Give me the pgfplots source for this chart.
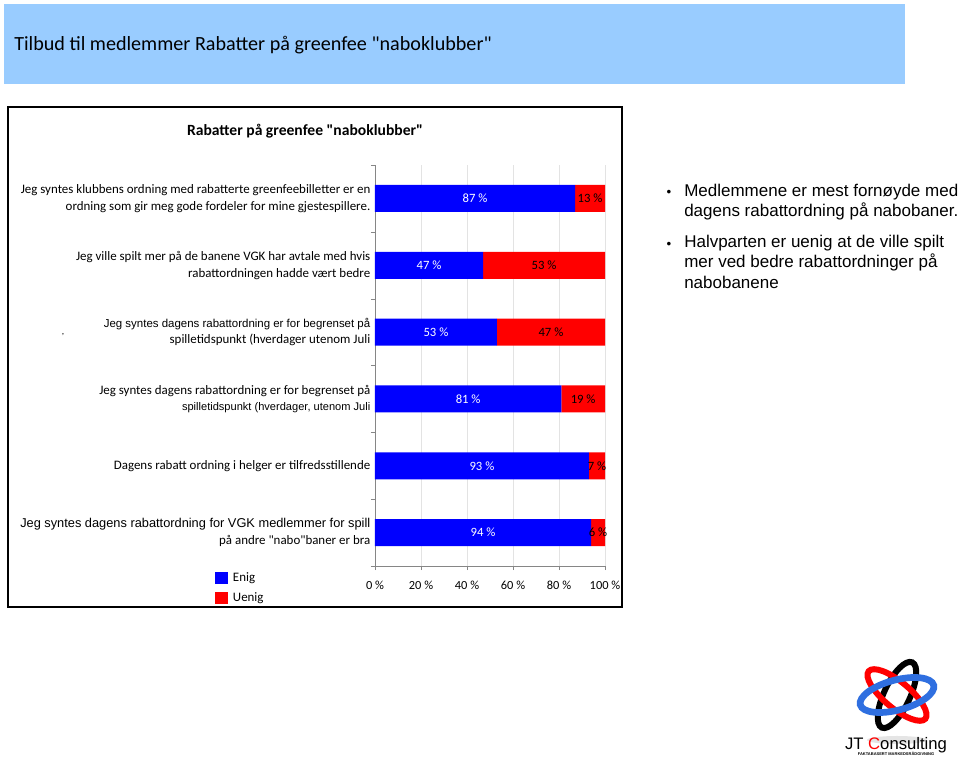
\documentclass[border=0pt]{standalone}
\usepackage{fontspec}
\setmainfont{Carlito}
\newfontfamily\arial{Liberation Sans}
\usepackage{pgfplots}
\pgfplotsset{compat=1.18}
\definecolor{hdr}{HTML}{99CCFF}
\definecolor{eblue}{HTML}{0000FF}
\definecolor{ured}{HTML}{FF0000}
\definecolor{axgray}{HTML}{868686}
\definecolor{gridgray}{HTML}{E3E3E3}
\definecolor{logoblue}{HTML}{2F6FE0}
\newcommand{\q}{\textquotedbl}
\begin{document}
\begin{tikzpicture}[x=0.75pt,y=0.75pt]
\path[use as bounding box] (0,0) rectangle (960,759);
\fill[white] (0,0) rectangle (960,759);
% header band
\fill[hdr] (4,675) rectangle (905,755);
\node[anchor=west,inner sep=0pt,font=\fontsize{15.1}{17}\selectfont] at (14,714) {Tilbud til medlemmer Rabatter på greenfee \q naboklubber\q};
% chart box
\draw[line width=1.4pt] (8,152) rectangle (622,652);
\node[font=\bfseries\fontsize{11.7}{13}\selectfont,inner sep=0pt] at (305,628) {Rabatter på greenfee \q naboklubber\q};
\node[font=\fontsize{7}{7}\selectfont,inner sep=0pt] at (63,424) {,};
\begin{axis}[
  at={(281.25pt,144.75pt)}, anchor=south west,
  scale only axis, width=172.5pt, height=300.75pt,
  xbar stacked, bar width=20.25pt,
  xmin=0, xmax=100, ymin=-0.5, ymax=5.5, y dir=reverse,
  axis x line*=bottom, axis y line*=left,
  axis line style={draw=axgray,-},
  tick style={draw=axgray},
  tick align=outside, major tick length=3pt,
  xtick={0,20,...,100},
  xticklabel={\pgfmathprintnumber{\tick} \%},
  /pgf/number format/assume math mode=true,
  xticklabel style={font=\fontsize{9.3}{10}\selectfont, yshift=-5pt},
  xmajorgrids, major grid style={draw=gridgray},
  ytick={-0.5,0.5,...,5.5}, yticklabels={},
  extra y ticks={0,1,2,3,4,5},
  extra y tick style={major tick length=0pt, ymajorgrids=false,
     tick label style={align=right,font=\fontsize{9.7}{12.5}\selectfont}},
  extra y tick labels={
    {Jeg syntes klubbens ordning med rabatterte greenfeebilletter er en\\ordning som gir meg gode fordeler for mine gjestespillere.},
    {Jeg ville spilt mer på de banene VGK har avtale med hvis\\rabattordningen hadde vært bedre},
    {\arial\fontsize{8.6}{12}\selectfont Jeg syntes dagens rabattordning er for begrenset på\\spilletidspunkt (hverdager utenom Juli},
    {Jeg syntes dagens rabattordning er for begrenset på\\{\arial\fontsize{8.3}{10}\selectfont spilletidspunkt (hverdager, utenom Juli}},
    {Dagens rabatt ordning i helger er tilfredsstillende},
    {\arial\fontsize{9.6}{13}\selectfont Jeg syntes dagens rabattordning for VGK medlemmer for spill\\på andre \q nabo\q baner er bra}
  },
  nodes near coords={\pgfmathprintnumber{\pgfplotspointmeta} \%},
  point meta=rawx,
  every node near coord/.append style={anchor=center, font=\fontsize{9.5}{10}\selectfont},
  legend style={at={(axis description cs:-0.697,-0.008)}, anchor=north west, draw=none, fill=none,
     font=\fontsize{9.7}{11}\selectfont, cells={anchor=west}, row sep=3pt, inner sep=0pt},
  legend image code/.code={\fill[#1] (0pt,-4.5pt) rectangle (9.5pt,4.5pt);},
]
\addplot[fill=eblue, draw=none, every node near coord/.append style={text=white}]
  coordinates {(87,0) (47,1) (53,2) (81,3) (93,4) (94,5)};
\addplot[fill=ured, draw=none, every node near coord/.append style={text=black}]
  coordinates {(13,0) (53,1) (47,2) (19,3) (7,4) (6,5)};
\legend{\hspace{2pt}Enig, \hspace{2pt}Uenig}
\end{axis}
% bullets
\node[anchor=north west,inner sep=0pt,align=left,font=\arial\fontsize{12.75}{14.6}\selectfont] at (684,575) {Medlemmene er mest fornøyde med\\dagens rabattordning på nabobaner.};
\node[anchor=north west,inner sep=0pt,align=left,font=\arial\fontsize{12.75}{15.2}\selectfont] at (684,524) {Halvparten er uenig at de ville spilt\\mer ved bedre rabattordninger på\\nabobanene};
\node[anchor=center,inner sep=0pt,font=\arial\fontsize{10}{10}\selectfont] at (669,566) {•};
\node[anchor=center,inner sep=0pt,font=\arial\fontsize{10}{10}\selectfont] at (669,514) {•};
% logo
\begin{scope}[shift={(897,64)}]
\fill[gray!20] (0,-45) ellipse [x radius=30, y radius=4];
\draw[black, line width=4.5pt] (0,0) ellipse [x radius=36, y radius=13, rotate=65];
\draw[ured, line width=4.5pt] (0,0) ellipse [x radius=37, y radius=13, rotate=-40];
\draw[logoblue, line width=5pt] (0,0) ellipse [x radius=38, y radius=15, rotate=15];
\end{scope}
\node[inner sep=0pt,font=\arial\fontsize{12.5}{12.5}\selectfont] at (896,14) {JT \textcolor{ured}{C}onsulting};
\node[inner sep=0pt,font=\arial\bfseries\fontsize{3}{3}\selectfont] at (896,5) {FAKTABASERT MARKEDSRÅDGIVNING};
\end{tikzpicture}
\end{document}
